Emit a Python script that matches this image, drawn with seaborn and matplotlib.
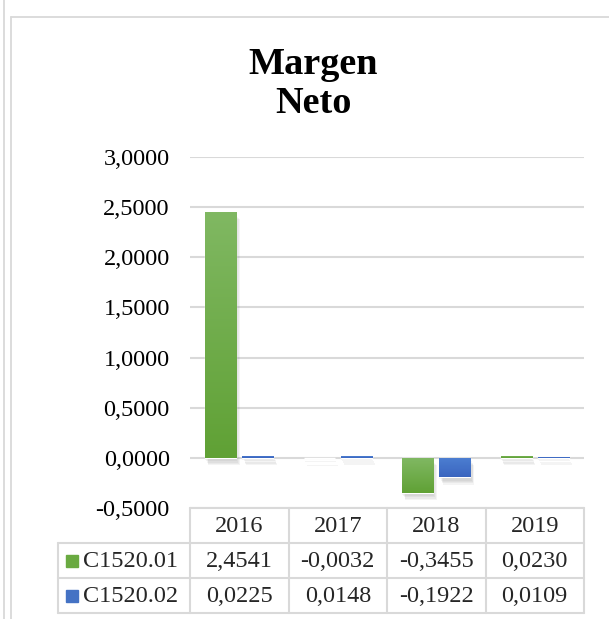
import numpy as np
import pandas as pd
import matplotlib
matplotlib.use("Agg")
import matplotlib.pyplot as plt
import matplotlib.patheffects as pe
from matplotlib.ticker import FuncFormatter
import seaborn as sns

# ---- data ----
years = ["2016", "2017", "2018", "2019"]
series_names = ["C1520.01", "C1520.02"]
c1520_01 = [2.4541, -0.0032, -0.3455, 0.0230]
c1520_02 = [0.0225, 0.0148, -0.1922, 0.0109]
yticks = [-0.5, 0.0, 0.5, 1.0, 1.5, 2.0, 2.5, 3.0]
title = "Margen\nNeto"

colors = ["#6aaa41", "#4472c4"]
grad = {  # top, bottom
    0: ("#80b862", "#60a135"),
    1: ("#4d7fd2", "#3a65bf"),
}

df = pd.DataFrame({
    "year": years * 2,
    "value": c1520_01 + c1520_02,
    "series": [series_names[0]] * 4 + [series_names[1]] * 4,
})

sns.set_theme(style="white")
plt.rcParams["font.family"] = ["Liberation Serif", "DejaVu Serif"]

W, H = 609, 619
fig = plt.figure(figsize=(W / 100, H / 100), dpi=100)
fig.patch.set_facecolor("white")

# overlay axes in pixel coords for frame and table
ov = fig.add_axes([0, 0, 1, 1], zorder=0)
ov.set_xlim(0, W)
ov.set_ylim(H, 0)
ov.axis("off")

gray = "#d9d9d9"
ov.plot([4, 4], [0, H], color=gray, lw=1.3)
ov.plot([11, 11], [17, H], color=gray, lw=1.3)
ov.plot([11, W], [17, 17], color=gray, lw=1.3)

# plot axes
L, R, T, B = 190, 584, 157, 508
ax = fig.add_axes([L / W, 1 - B / H, (R - L) / W, (B - T) / H], zorder=2)
ax.patch.set_alpha(0)

sns.barplot(data=df, x="year", y="value", hue="series", palette=colors,
            width=0.76, gap=0.17, legend=False, ax=ax, saturation=1)

shadow = [pe.SimplePatchShadow(offset=o, shadow_rgbFace=(0.4, 0.4, 0.4), alpha=0.07)
          for o in [(0, -1.5), (1, -2.5), (1.5, -3.5), (2, -4.5), (2.5, -5.5)]]

for i, cont in enumerate(ax.containers):
    top_c, bot_c = grad[i]
    tc = np.array(matplotlib.colors.to_rgb(top_c))
    bc = np.array(matplotlib.colors.to_rgb(bot_c))
    g = np.linspace(0, 1, 64)[:, None]
    img = (tc[None, :] * (1 - g) + bc[None, :] * g)[:, None, :]
    for p in cont.patches:
        p.set_path_effects(shadow + [pe.Normal()])
        p.set_zorder(3)
        x0, y0, w, h = p.get_x(), p.get_y(), p.get_width(), p.get_height()
        lo, hi = min(y0, y0 + h), max(y0, y0 + h)
        im = ax.imshow(img, extent=[x0, x0 + w, lo, hi], origin="upper",
                       aspect="auto", zorder=3.5, interpolation="bilinear")
        im.set_clip_path(p)

ax.set_xlim(-0.5, 3.5)
ax.set_ylim(-0.5, 3.0)
ax.set_yticks(yticks)
ax.yaxis.set_major_formatter(FuncFormatter(lambda v, _: f"{v:.4f}".replace(".", ",")))
ax.set_xticks([])
ax.set_xlabel("")
ax.set_ylabel("")
ax.tick_params(axis="y", length=0, pad=14.5, labelsize=17.5, labelcolor="black")
ax.grid(axis="y", color=gray, lw=1.5, zorder=1)
ax.set_axisbelow(True)
for s in ax.spines.values():
    s.set_visible(False)

# title
ov.text(313, 84, title, ha="center", va="center", fontsize=27.5,
        fontweight="bold", color="black", linespacing=1.17)

# data table
col_edges = [L + (R - L) * k / 4 for k in range(5)]
row_edges = [508, 543, 578, 613]
tlw = 1.5
ov.plot([L, R], [row_edges[0], row_edges[0]], color=gray, lw=tlw)
for ry in row_edges[1:]:
    ov.plot([58, R], [ry, ry], color=gray, lw=tlw)
for cx in col_edges:
    ov.plot([cx, cx], [row_edges[0], row_edges[-1]], color=gray, lw=tlw)
ov.plot([58, 58], [row_edges[1], row_edges[-1]], color=gray, lw=tlw)

fs = 17.5
def fmt(v):
    return f"{v:.4f}".replace(".", ",")

for k, yr in enumerate(years):
    cx = (col_edges[k] + col_edges[k + 1]) / 2
    ov.text(cx, (row_edges[0] + row_edges[1]) / 2 + 1, yr, ha="center", va="center", fontsize=fs)
    ov.text(cx, (row_edges[1] + row_edges[2]) / 2 + 1, fmt(c1520_01[k]), ha="center", va="center", fontsize=fs)
    ov.text(cx, (row_edges[2] + row_edges[3]) / 2 + 1, fmt(c1520_02[k]), ha="center", va="center", fontsize=fs)

for j, name in enumerate(series_names):
    cy = (row_edges[j + 1] + row_edges[j + 2]) / 2
    ov.add_patch(plt.Rectangle((66, cy - 6), 12, 12, color=colors[j]))
    ov.text(83, cy + 1, name, ha="left", va="center", fontsize=fs)

fig.savefig("out.png", dpi=100, facecolor="white")
